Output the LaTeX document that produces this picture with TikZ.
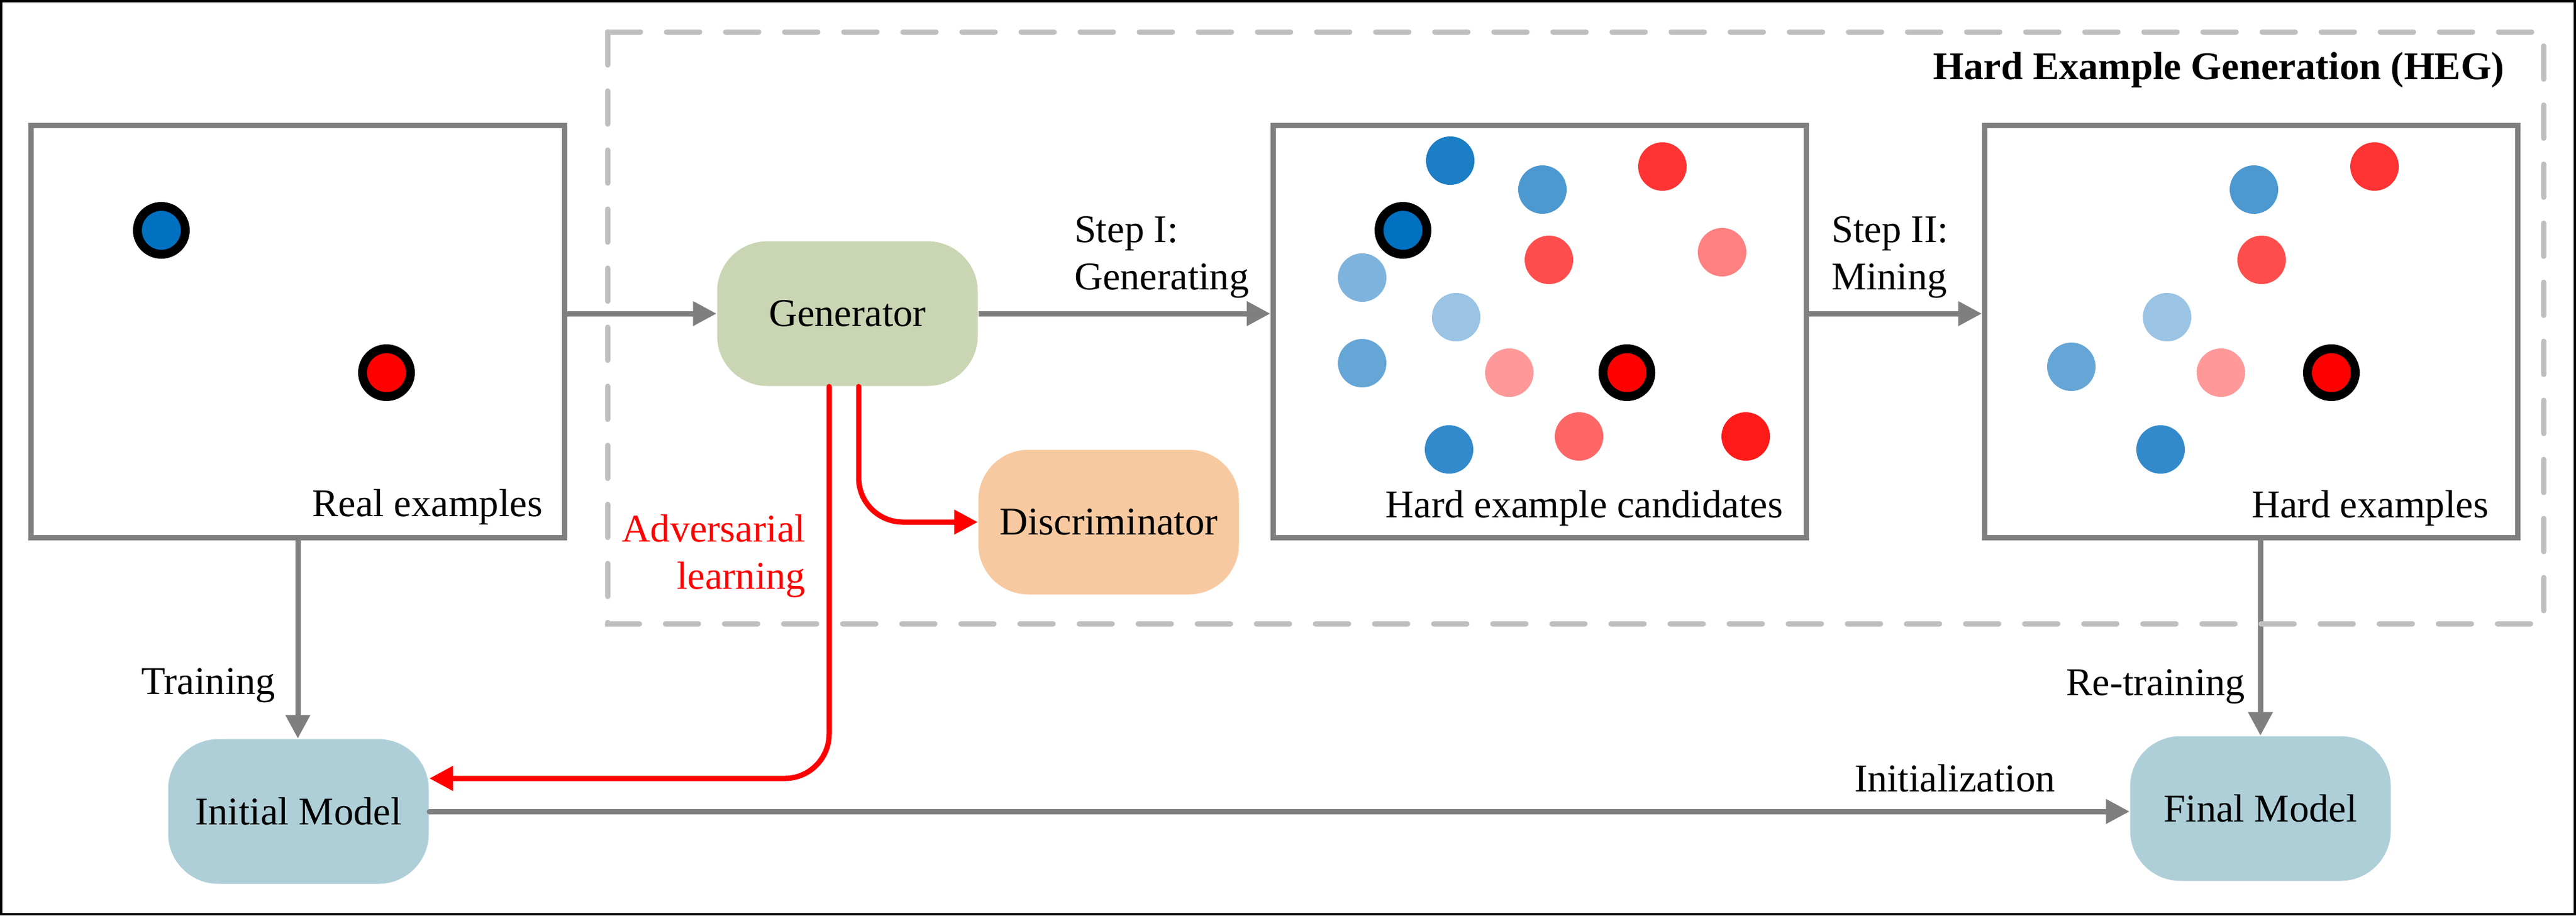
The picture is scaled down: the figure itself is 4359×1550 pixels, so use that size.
\documentclass[tikz,border=0pt]{standalone}
\usepackage{fontspec}
\setmainfont{Liberation Serif}
\usetikzlibrary{arrows.meta}
\definecolor{lineg}{HTML}{7F7F7F}
\definecolor{dashg}{HTML}{BFBFBF}
\definecolor{genfill}{HTML}{C9D5B3}
\definecolor{discfill}{HTML}{F7C9A0}
\definecolor{modfill}{HTML}{AECFD8}
\definecolor{bcore}{HTML}{0070C0}
\definecolor{rcore}{HTML}{FF0000}
\definecolor{bA}{HTML}{1C7EC4}
\definecolor{bB}{HTML}{4C98D1}
\definecolor{bC}{HTML}{7EB3DD}
\definecolor{bD}{HTML}{9AC3E4}
\definecolor{bE}{HTML}{66A6D7}
\definecolor{bF}{HTML}{338ACB}
\definecolor{rA}{HTML}{FF3333}
\definecolor{rB}{HTML}{FF4D4D}
\definecolor{rC}{HTML}{FF8080}
\definecolor{rD}{HTML}{FF9999}
\definecolor{rE}{HTML}{FF6666}
\definecolor{rF}{HTML}{FF1A1A}
\begin{document}
\begin{tikzpicture}[x=0.2pt,y=-0.2pt,
  font=\fontsize{13.3}{16}\selectfont,
  panel/.style={draw=lineg, line width=1.8pt, fill=white, minimum width=180.4pt, minimum height=139.6pt, inner sep=0pt},
  block/.style={rounded corners=17pt, minimum width=88.2pt, minimum height=49pt, inner sep=0pt},
  flow/.style={draw=lineg, line width=1.8pt, -{Triangle[length=8pt,width=8pt]}},
  adv/.style={draw=red, line width=1.8pt, line cap=round, rounded corners=15pt, -{Triangle[length=8pt,width=8pt]}},
  hegframe/.style={draw=dashg, line width=1.8pt, line cap=round, dash pattern=on 11.2pt off 8.8pt},
  lbl/.style={inner sep=0pt},
  ringb/.style={draw=black, line width=3pt, fill=bcore},
  ringr/.style={draw=black, line width=3pt, fill=rcore}]
\useasboundingbox (0,0) rectangle (4359,1550);
\draw[black, line width=0.8pt] (2,2) rectangle (4357,1548);

% panels
\node[panel] (real) at (504,561) {};
\node[panel] (cand) at (2605,561) {};
\node[panel] (hard) at (3809,561) {};

% blocks
\node[block, fill=genfill] (gen) at (1434,531) {Generator};
\node[block, fill=discfill] (disc) at (1876,884) {Discriminator};
\node[block, fill=modfill] (init) at (505,1374) {Initial Model};
\node[block, fill=modfill] (final) at (3825,1369) {Final Model};

% gray connectors
\draw[flow] (real.east |- gen.west) -- (gen.west);
\draw[flow] (gen.east) -- (gen.east -| cand.west);
\draw[flow] (cand.east |- gen.east) -- (hard.west |- gen.east);
\draw[flow] (real.south) -- (real.south |- init.north);
\draw[flow] (hard.south -| final.north) -- (final.north);
\draw[flow, line cap=round] (init.east) -- (init.east -| final.west);

% dashed HEG frame
\draw[hegframe] (1028,54) rectangle (4304,1056);
\node[lbl, anchor=base east, font=\fontsize{13.3}{16}\selectfont\bfseries] (hegtitle) at (4239,134) {Hard Example Generation (HEG)};

% red connectors
\draw[adv] ([xshift=-6.2pt]gen.south) |- ([yshift=11.2pt]init.east);
\draw[adv] ([xshift=3.8pt]gen.south) |- (disc.west);

% labels
\node[lbl, anchor=base east] (treal) at (919,874) {Real examples};
\node[lbl, anchor=base east] (tcand) at (3018,876) {Hard example candidates};
\node[lbl, anchor=base east] (thard) at (4212,876) {Hard examples};
\node[lbl, anchor=base west, align=left] (tstep1) at (1817,490) {Step I:\\Generating};
\node[lbl, anchor=base west, align=left] (tstep2) at (3098,490) {Step II:\\Mining};
\node[lbl, anchor=base east, align=right, text=red] (tadv) at (1364,997) {Adversarial\\learning};
\node[lbl, anchor=base east] (ttrain) at (467,1175) {Training};
\node[lbl, anchor=base east] (tretrain) at (3800,1177) {Re-training};
\node[lbl, anchor=base west] (tinit) at (3137,1340) {Initialization};

% dots: real examples
\draw[ringb] (273,390) circle (40.5);
\draw[ringr] (654,631) circle (40.5);

% dots: hard example candidates
\fill[bA] (2454,272) circle (41);
\fill[bB] (2610,321) circle (41);
\fill[rA] (2813,282) circle (41);
\fill[rB] (2621,440) circle (41);
\fill[rC] (2914,427) circle (41);
\fill[bC] (2305,470) circle (41);
\fill[bD] (2464,537) circle (41);
\fill[bE] (2305,615) circle (41);
\fill[rD] (2554,631) circle (41);
\fill[bF] (2452,761) circle (41);
\fill[rE] (2672,739) circle (41);
\fill[rF] (2954,739) circle (41);
\draw[ringb] (2374,390) circle (40.5);
\draw[ringr] (2753,631) circle (40.5);

% dots: hard examples
\fill[bB] (3814,321) circle (41);
\fill[rA] (4018,282) circle (41);
\fill[rB] (3827,440) circle (41);
\fill[bD] (3667,537) circle (41);
\fill[bE] (3505,621) circle (41);
\fill[rD] (3758,631) circle (41);
\fill[bF] (3656,761) circle (41);
\draw[ringr] (3945,631) circle (40.5);
\end{tikzpicture}
\end{document}
